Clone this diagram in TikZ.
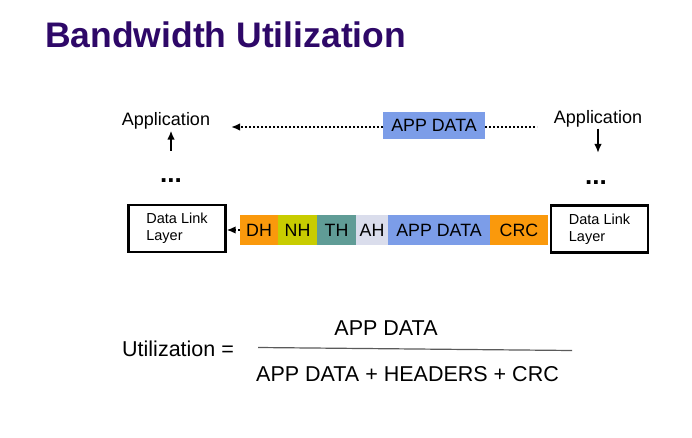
\documentclass[tikz,border=0pt]{standalone}
\usepackage{fontspec}
\setmainfont{Liberation Sans}
\usetikzlibrary{arrows.meta,positioning}
\definecolor{titlepurple}{RGB}{46,8,104}
\definecolor{hdrorange}{RGB}{250,153,12}
\definecolor{nhyellow}{RGB}{200,204,0}
\definecolor{thteal}{RGB}{96,156,150}
\definecolor{ahlav}{RGB}{218,221,236}
\definecolor{datablue}{RGB}{124,157,232}
\definecolor{rulegray}{RGB}{90,90,90}

\begin{document}
\begin{tikzpicture}[x=1pt,y=-1pt]
        \tikzset{field/.style = {inner sep=0pt, outer sep=0pt, minimum height=30pt, font=\fontsize{17.8}{20}\selectfont}}
        \tikzset{layer/.style = {draw, line width=2.2pt, minimum width=97pt, minimum height=47pt, align=left, font=\fontsize{14.5}{17}\selectfont}}
        \tikzset{label/.style = {inner sep=1pt, font=\fontsize{18}{20}\selectfont}}
        \tikzset{dots/.style = {anchor=base, inner sep=0pt, font=\fontsize{26}{28}\selectfont\bfseries}}
        \tikzset{eqtext/.style = {anchor=base, inner sep=0pt, font=\fontsize{21.5}{24}\selectfont}}
        \tikzset{edge/.style = {-{Latex[length=9pt,width=7.5pt]}, line width=1.8pt}}
        \tikzset{dotted edge/.style = {edge, dash pattern=on 1.8pt off 2.2pt}}
        \useasboundingbox (0,0) rectangle (692,438);
        % title
        \node[anchor=base west, inner sep=0pt, text=titlepurple, font=\fontsize{35.5}{40}\selectfont\bfseries] (title) at (45,48) {Bandwidth Utilization};
        % application side
        \node[label] (appl) at (166,121) {Application};
        \node[label] (appr) at (598,119) {Application};
        \coordinate (upl) at (171,151);
        \coordinate (upr) at (598,153);
        \node[dots] (dotsl) at (171,183) {...};
        \node[dots] (dotsr) at (596,185) {...};
        \node[field, fill=datablue, minimum width=102pt, minimum height=27pt] (topdata) at (434,125.5) {APP DATA};
        \coordinate (topend) at (231,127);
        \coordinate (topright) at (537,127);
        % data link layer
        \node[layer] (dlll) at (177,228.5) {Data Link\\Layer};
        \node[layer] (dllr) at (599.5,229) {Data Link\\Layer};
        % frame
        \node[field, fill=hdrorange, minimum width=38pt] (dh) at (259,230) {DH};
        \node[field, fill=nhyellow, minimum width=39pt, right=0pt of dh] (nh) {NH};
        \node[field, fill=thteal, minimum width=39pt, right=0pt of nh] (th) {TH};
        \node[field, fill=ahlav, minimum width=32pt, right=0pt of th] (ah) {AH};
        \node[field, fill=datablue, minimum width=102pt, right=0pt of ah] (data) {APP DATA};
        \node[field, fill=hdrorange, minimum width=58pt, right=0pt of data] (crc) {CRC};
        % formula
        \node[eqtext, anchor=base west] (util) at (122,356) {Utilization =};
        \node[eqtext] (num) at (386,335) {APP DATA};
        \node[eqtext] (den) at (407.5,381) {APP DATA + HEADERS + CRC};
        \coordinate (barl) at (258,347.5);
        \coordinate (barr) at (572,350.5);
        %edges
        \draw[edge] (upl) -- (appl.south -| upl);
        \draw[edge] (appr.south -| upr) -- (upr);
        \draw[dotted edge] (topdata.west |- topend) -- (topend);
        \draw[dotted edge, -] (topdata.east |- topright) -- (topright);
        \draw[dotted edge] (dh.west) -- (dh.west -| dlll.east);
        \draw[rulegray, line width=1.2pt] (barl) -- (barr);
\end{tikzpicture}
\end{document}
